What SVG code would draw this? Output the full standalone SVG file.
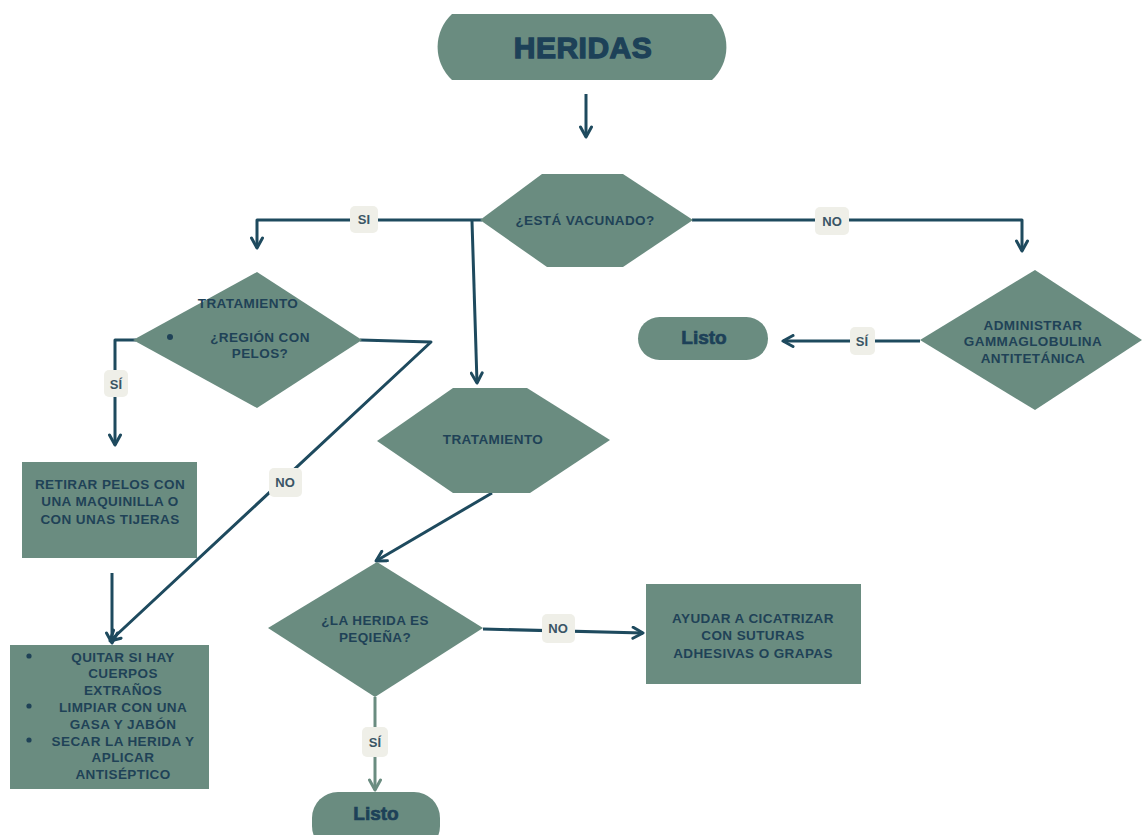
<svg xmlns="http://www.w3.org/2000/svg" width="1142" height="835" viewBox="0 0 1142 835">
<defs>
<style>
.n{fill:#6a8c80}
.t{font-family:"Liberation Sans",Arial,sans-serif;font-weight:bold;font-size:13.5px;letter-spacing:0.4px;fill:#1f4257;text-anchor:middle}
.tb{font-family:"Liberation Sans",Arial,sans-serif;font-weight:bold;fill:#1d4158;stroke:#1d4158;text-anchor:middle}
.c{fill:none;stroke:#1e4a5e;stroke-width:3;stroke-linejoin:round}
.cg{fill:none;stroke:#6a8c80;stroke-width:3}
.lb{fill:#efefe8}
.lt{font-family:"Liberation Sans",Arial,sans-serif;font-weight:bold;font-size:13px;fill:#3a5565;text-anchor:middle}
</style>
<marker id="a" viewBox="0 0 14 14" refX="12" refY="7" markerWidth="14" markerHeight="14" markerUnits="userSpaceOnUse" orient="auto">
<path d="M2,1.5 L12,7 L2,12.5" fill="none" stroke="#1e4a5e" stroke-width="3" stroke-linejoin="round" stroke-linecap="round"/>
</marker>
<marker id="ag" viewBox="0 0 14 14" refX="12" refY="7" markerWidth="14" markerHeight="14" markerUnits="userSpaceOnUse" orient="auto">
<path d="M2,1.5 L12,7 L2,12.5" fill="none" stroke="#6a8c80" stroke-width="3" stroke-linejoin="round" stroke-linecap="round"/>
</marker>
</defs>
<rect width="1142" height="835" fill="#ffffff"/>

<g id="connectors">
<path class="c" d="M586,94 V137" marker-end="url(#a)"/>
<path class="c" d="M482,220 H257 V248" marker-end="url(#a)"/>
<path class="c" d="M472,221 L477,383" marker-end="url(#a)"/>
<path class="c" d="M692,220 H1022 V251" marker-end="url(#a)"/>
<path class="c" d="M920,341 H783" marker-end="url(#a)"/>
<path class="c" d="M136,340 H115 V445" marker-end="url(#a)"/>
<path class="c" d="M360,340 L431,342 L110,641" marker-end="url(#a)"/>
<path class="c" d="M112,573 V643" marker-end="url(#a)"/>
<path class="c" d="M492,493 L376,561" marker-end="url(#a)"/>
<path class="c" d="M483,629 L643,633" marker-end="url(#a)"/>
<path class="cg" d="M375,697 V790" marker-end="url(#ag)"/>
<rect class="lb" x="350" y="206" width="28" height="27" rx="5"/>
<text class="lt" x="364" y="224">SI</text>
<rect class="lb" x="815" y="207" width="34" height="28" rx="5"/>
<text class="lt" x="832" y="226">NO</text>
<rect class="lb" x="850" y="327" width="25" height="28" rx="5"/>
<text class="lt" x="862" y="346">SÍ</text>
<rect class="lb" x="104" y="370" width="24" height="27" rx="5"/>
<text class="lt" x="116" y="389">SÍ</text>
<rect class="lb" x="269" y="468" width="33" height="29" rx="5"/>
<text class="lt" x="285" y="487">NO</text>
<rect class="lb" x="542" y="614" width="33" height="29" rx="5"/>
<text class="lt" x="558" y="633">NO</text>
<rect class="lb" x="362" y="727" width="26" height="30" rx="5"/>
<text class="lt" x="375" y="747">SÍ</text>
</g>

<g id="heridas">
<path class="n" d="M452,14 H712 A45,45 0 0 1 712,80 H452 A45,45 0 0 1 452,14 Z"/>
<text class="tb" x="583" y="58" font-size="30" letter-spacing="0.5" stroke-width="1.3">HERIDAS</text>
</g>

<g id="vacunado">
<polygon class="n" points="480,220 542,174 623,174 693,220 623,267 547,267"/>
<text class="t" x="585" y="225">¿ESTÁ VACUNADO?</text>
</g>

<g id="region-pelos">
<polygon class="n" points="133,340 257,272 362,340 257,408"/>
<text class="t" x="248" y="308">TRATAMIENTO</text>
<circle cx="170" cy="337" r="3" fill="#1f4257"/>
<text class="t" x="260" y="342">¿REGIÓN CON</text>
<text class="t" x="260" y="358">PELOS?</text>
</g>

<g id="gammaglobulina">
<polygon class="n" points="920,340 1035,270 1142,340 1035,410"/>
<text class="t" x="1033" y="330">ADMINISTRAR</text>
<text class="t" x="1033" y="346">GAMMAGLOBULINA</text>
<text class="t" x="1033" y="363">ANTITETÁNICA</text>
</g>

<g id="listo-1">
<rect class="n" x="638" y="317" width="130" height="43" rx="21.5"/>
<text class="tb" x="704" y="344" font-size="19" stroke-width="0.7">Listo</text>
</g>

<g id="tratamiento">
<polygon class="n" points="377,441 453,388 527,388 610,440 530,493 453,493"/>
<text class="t" x="493" y="444">TRATAMIENTO</text>
</g>

<g id="retirar-pelos">
<rect class="n" x="22" y="462" width="175" height="96"/>
<text class="t" x="110" y="489">RETIRAR PELOS CON</text>
<text class="t" x="110" y="506">UNA MAQUINILLA O</text>
<text class="t" x="110" y="524">CON UNAS TIJERAS</text>
</g>

<g id="limpiar">
<rect class="n" x="10" y="645" width="199" height="144"/>
<circle cx="29" cy="656" r="2.6" fill="#1f4257"/>
<circle cx="29" cy="706" r="2.6" fill="#1f4257"/>
<circle cx="29" cy="740" r="2.6" fill="#1f4257"/>
<text class="t" x="123" y="662">QUITAR SI HAY</text>
<text class="t" x="123" y="678">CUERPOS</text>
<text class="t" x="123" y="695">EXTRAÑOS</text>
<text class="t" x="123" y="712">LIMPIAR CON UNA</text>
<text class="t" x="123" y="729">GASA Y JABÓN</text>
<text class="t" x="123" y="746">SECAR LA HERIDA Y</text>
<text class="t" x="123" y="762">APLICAR</text>
<text class="t" x="123" y="779">ANTISÉPTICO</text>
</g>

<g id="pequena">
<polygon class="n" points="268,628 377,562 483,628 375,697"/>
<text class="t" x="375" y="625">¿LA HERIDA ES</text>
<text class="t" x="375" y="642">PEQIEÑA?</text>
</g>

<g id="suturas">
<rect class="n" x="646" y="584" width="215" height="100"/>
<text class="t" x="753" y="623">AYUDAR A CICATRIZAR</text>
<text class="t" x="753" y="640">CON SUTURAS</text>
<text class="t" x="753" y="658">ADHESIVAS O GRAPAS</text>
</g>

<g id="listo-2">
<rect class="n" x="312" y="792" width="128" height="60" rx="26"/>
<text class="tb" x="376" y="820" font-size="19" stroke-width="0.7">Listo</text>
</g>
</svg>
